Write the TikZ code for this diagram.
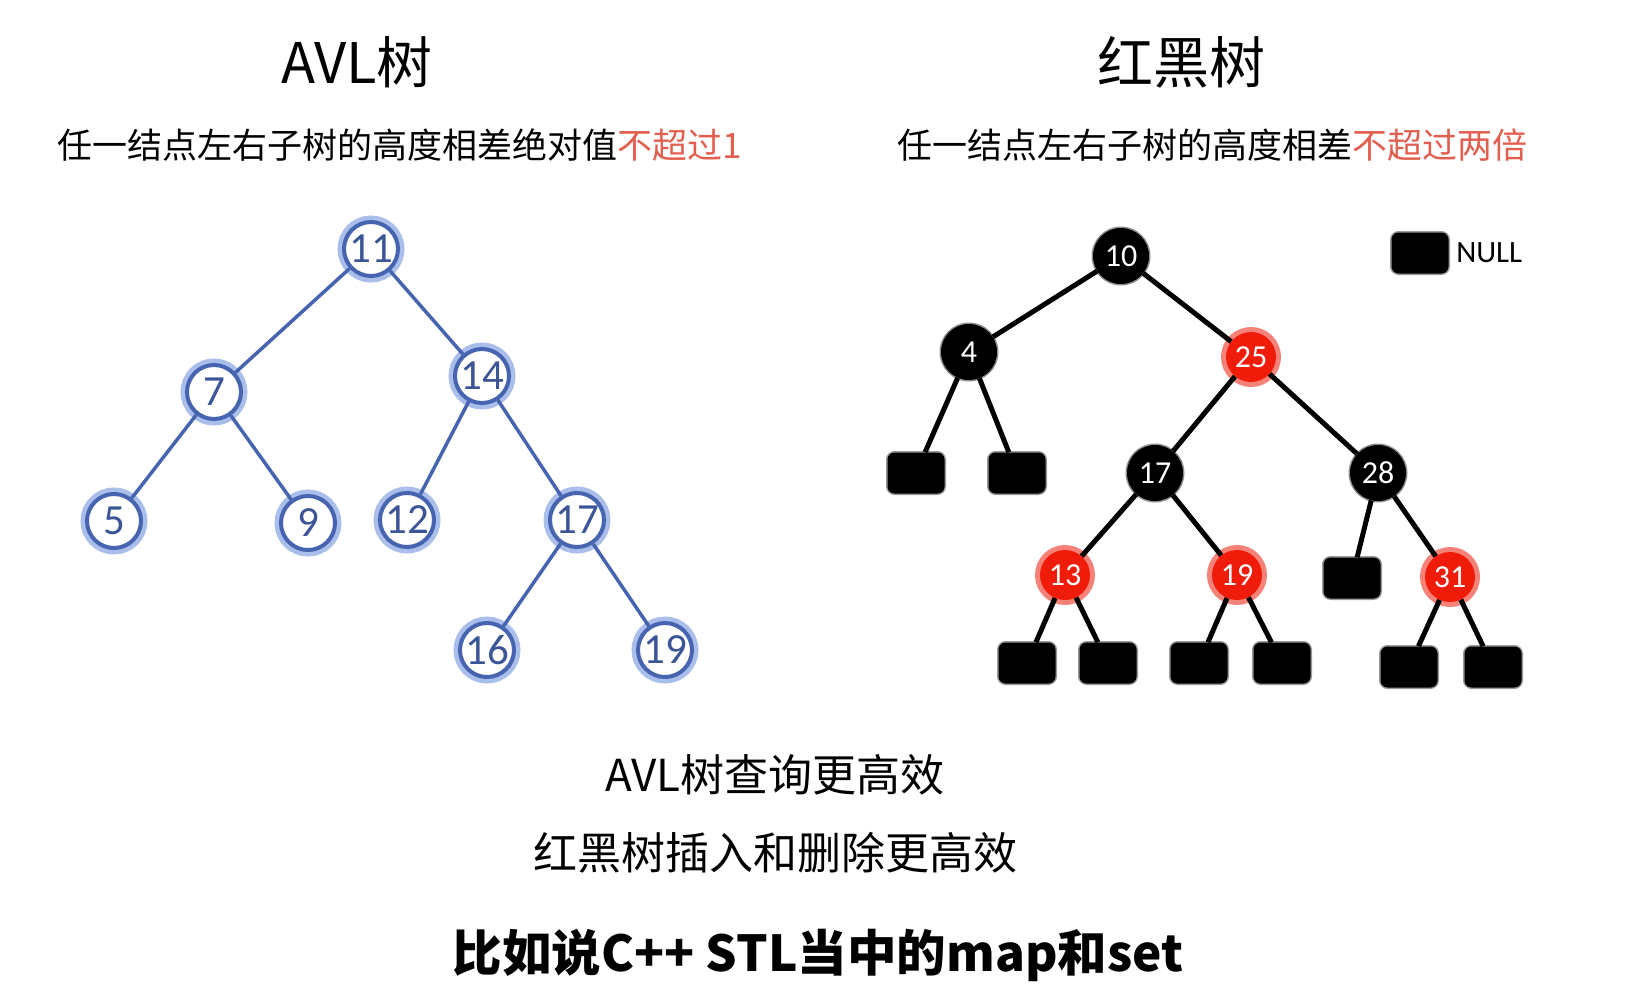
\documentclass[tikz,border=0pt]{standalone}
\usepackage{fontspec}
\setmainfont{Noto Sans CJK SC}
\newfontfamily\numfont{Carlito}
\usetikzlibrary{positioning}
\definecolor{avlblue}{RGB}{70,100,175}
\definecolor{avltext}{RGB}{60,85,150}
\definecolor{avlglow}{RGB}{170,190,235}
\definecolor{hlred}{RGB}{226,95,80}
\definecolor{rbred}{RGB}{240,28,10}
\definecolor{rbglow}{RGB}{245,130,120}
\begin{document}
\begin{tikzpicture}[x=1pt,y=-1pt,
    avl/.style={circle, draw=avlblue, line width=4pt, fill=white, minimum size=54pt, inner sep=0pt,
        text=avltext, font=\numfont\fontsize{43}{43}\selectfont,
        preaction={draw=avlglow, line width=13pt}},
    blk/.style={circle, fill=black, minimum size=56pt, inner sep=0pt, text=white,
        font=\numfont\fontsize{32}{32}\selectfont, preaction={draw=black!45, line width=3pt}},
    red/.style={circle, fill=rbred, minimum size=50pt, inner sep=0pt, text=white,
        font=\numfont\fontsize{32}{32}\selectfont, preaction={draw=rbglow, line width=10pt}},
    nil/.style={rectangle, rounded corners=7pt, fill=black, minimum width=57pt, minimum height=41pt,
        inner sep=0pt, preaction={draw=black!40, line width=3pt}},
    avledge/.style={draw=avlblue, line width=3.5pt},
    rbedge/.style={draw=black, line width=5pt}]
    \useasboundingbox (0,0) rectangle (1625,990);
    % titles
    \node (t1) at (357,62) {\fontsize{56}{56}\selectfont AVL树};
    \node (t2) at (1181,62) {\fontsize{56}{56}\selectfont 红黑树};
    \node (s1) at (400,145) {\fontsize{35}{35}\selectfont 任一结点左右子树的高度相差绝对值{\color{hlred}不超过1}};
    \node (s2) at (1212,145) {\fontsize{35}{35}\selectfont 任一结点左右子树的高度相差{\color{hlred}不超过两倍}};
    % AVL tree
    \node[avl] (a11) at (371,249) {11};
    \node[avl] (a7) at (214,392) {7};
    \node[avl] (a14) at (482,376) {14};
    \node[avl] (a5) at (114,521) {5};
    \node[avl] (a9) at (308,523) {9};
    \node[avl] (a12) at (407,520) {12};
    \node[avl] (a17) at (577,520) {17};
    \node[avl] (a16) at (487,650) {16};
    \node[avl] (a19) at (665,650) {19};
    \draw[avledge] (a11) -- (a7) (a11) -- (a14)
          (a7) -- (a5) (a7) -- (a9)
          (a14) -- (a12) (a14) -- (a17)
          (a17) -- (a16) (a17) -- (a19);
    % red-black tree
    \node[blk] (r10) at (1121,256) {10};
    \node[blk] (r4) at (969,352) {4};
    \node[red] (r25) at (1251,357) {25};
    \node[blk] (r17) at (1155,473) {17};
    \node[blk] (r28) at (1378,473) {28};
    \node[red] (r13) at (1065,575) {13};
    \node[red] (r19) at (1237,575) {19};
    \node[red] (r31) at (1450,577) {31};
    \node[nil] (n1) at (916,473) {};
    \node[nil] (n2) at (1017,473) {};
    \node[nil] (n3) at (1027,663) {};
    \node[nil] (n4) at (1108,663) {};
    \node[nil] (n5) at (1199,663) {};
    \node[nil] (n6) at (1282,663) {};
    \node[nil] (n7) at (1352,578) {};
    \node[nil] (n8) at (1409,667) {};
    \node[nil] (n9) at (1493,667) {};
    \draw[rbedge] (r10) -- (r4) (r10) -- (r25)
          (r4) -- (n1) (r4) -- (n2)
          (r25) -- (r17) (r25) -- (r28)
          (r17) -- (r13) (r17) -- (r19)
          (r28) -- (n7) (r28) -- (r31)
          (r13) -- (n3) (r13) -- (n4)
          (r19) -- (n5) (r19) -- (n6)
          (r31) -- (n8) (r31) -- (n9);
    % legend
    \node[nil] (key) at (1420,253) {};
    \node[right=4pt of key, font=\numfont\fontsize{31}{31}\selectfont] (keytext) {NULL};
    % notes
    \node (c1) at (775,775) {\fontsize{44}{44}\selectfont AVL树查询更高效};
    \node (c2) at (775,853) {\fontsize{44}{44}\selectfont 红黑树插入和删除更高效};
    \node (c3) at (818,955) {\fontsize{49.5}{49.5}\selectfont\bfseries 比如说C++ STL当中的map和set};
\end{tikzpicture}
\end{document}
